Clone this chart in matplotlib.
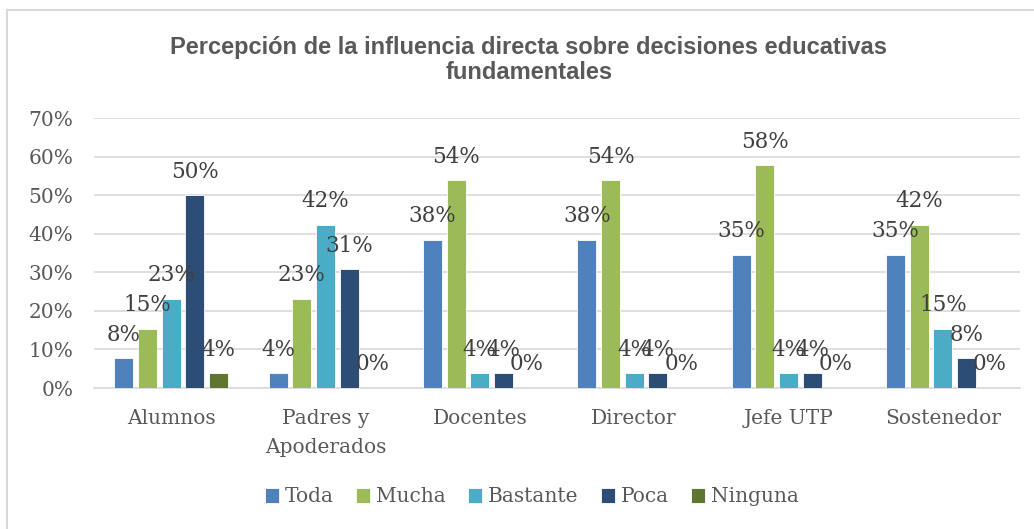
import numpy as np
import matplotlib.pyplot as plt
from matplotlib.patches import Rectangle

# ── data (percent) ──
categories = ['Alumnos', 'Padres y\nApoderados', 'Docentes', 'Director', 'Jefe UTP', 'Sostenedor']
series_names = ['Toda', 'Mucha', 'Bastante', 'Poca', 'Ninguna']
toda = [7.7, 3.8, 38.5, 38.5, 34.6, 34.6]
mucha = [15.4, 23.1, 53.8, 53.8, 57.7, 42.3]
bastante = [23.1, 42.3, 3.8, 3.8, 3.8, 15.4]
poca = [50.0, 30.8, 3.8, 3.8, 3.8, 7.7]
ninguna = [3.8, 0.0, 0.0, 0.0, 0.0, 0.0]
y_ticks = [0, 10, 20, 30, 40, 50, 60, 70]

colors = ['#4F81BD', '#9BBB59', '#4BACC6', '#2C4D75', '#5F7530']
series = [toda, mucha, bastante, poca, ninguna]

serif = ['DejaVu Serif']
sans = ['Liberation Sans', 'DejaVu Sans']
txt_gray = '#595959'
lbl_gray = '#404040'
fs = 14.5

fig = plt.figure(figsize=(10.34, 5.29), dpi=100)
ax = fig.add_axes([94 / 1034, 141 / 529, 926 / 1034, 270 / 529])

x = np.arange(len(categories))
step = 0.153
width = 0.123
for i, (name, vals, c) in enumerate(zip(series_names, series, colors)):
    pos = x + (i - 2) * step
    ax.bar(pos, vals, width, color=c, edgecolor='white', linewidth=0.6,
           label=name, zorder=3)
    for xp, v in zip(pos, vals):
        ax.annotate(f'{v:.0f}%', (xp, v), xytext=(0, 17), textcoords='offset points',
                    ha='center', va='center', fontsize=15.5, family=serif,
                    color=lbl_gray, zorder=4)

ax.set_xlim(-0.5, len(categories) - 0.5)
ax.set_ylim(0, 70)
ax.set_yticks(y_ticks)
ax.set_yticklabels([f'{t}%' for t in y_ticks], family=serif, fontsize=fs, color=txt_gray)
ax.set_xticks(x)
ax.set_xticklabels(categories, family=serif, fontsize=fs, color=txt_gray, linespacing=1.7)
ax.tick_params(axis='both', length=0)
ax.tick_params(axis='x', pad=15)
ax.tick_params(axis='y', pad=15)
ax.grid(axis='y', color='#D9D9D9', linewidth=1.2, zorder=0)
for s in ['top', 'right', 'left']:
    ax.spines[s].set_visible(False)
ax.spines['bottom'].set_color('#D9D9D9')
ax.spines['bottom'].set_linewidth(1.2)

fig.text(529 / 1034, 1 - 60 / 529,
         'Percepción de la influencia directa sobre decisiones educativas\nfundamentales',
         ha='center', va='center', fontsize=17, fontweight='bold', color=txt_gray,
         family=sans, linespacing=1.15)

leg = fig.legend(loc='center', bbox_to_anchor=(532 / 1034, 1 - 497 / 529), ncol=5,
                 frameon=False, prop={'family': serif, 'size': fs},
                 handlelength=0.7, handleheight=0.7, handletextpad=0.3, columnspacing=1.1)
for t in leg.get_texts():
    t.set_color(txt_gray)

# chart area border (top/left visible in reference)
fig.patches.append(Rectangle((7 / 1034, -0.1), 1.2, 1 - 10 / 529 + 0.1,
                             transform=fig.transFigure, fill=False,
                             edgecolor='#D9D9D9', linewidth=1.5))

fig.savefig('out.png', dpi=100)
